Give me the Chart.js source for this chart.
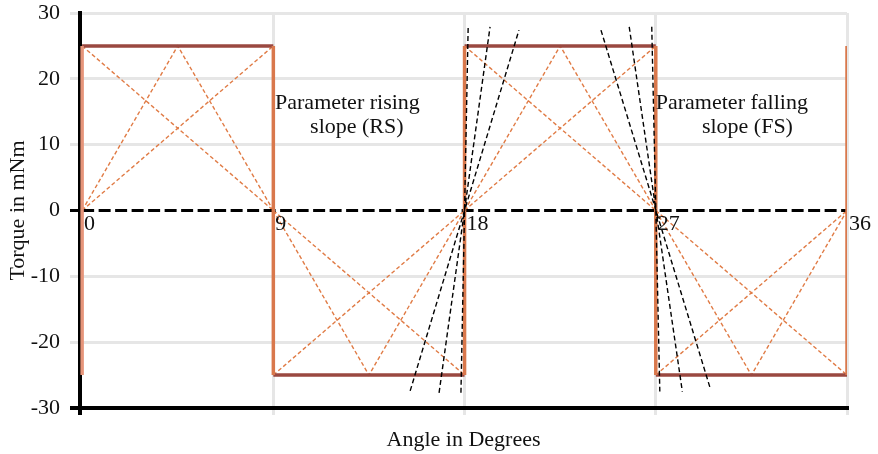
<!DOCTYPE html>
<html>
<head>
<meta charset="utf-8">
<script src="https://cdn.jsdelivr.net/npm/chart.js@4.4.1/dist/chart.umd.min.js"></script>
<style>
  html, body { margin: 0; padding: 0; background: #fff; }
  #wrap { width: 878px; height: 454px; position: relative; }
</style>
</head>
<body>
<div id="wrap"><canvas id="torqueChart"></canvas></div>
<script>
// angles (deg) where the torque steps, and their labels on the zero line
const edgeAngles = [0, 9, 18, 27, 36];
const edgeLabels = ["0", "9", "18", "27", "36"];

// flat parts of the square wave
const levelStart = [0, 9, 18, 27];
const levelEnd = [9, 18, 27, 36];
const levelTorque = [25, -25, 25, -25];

// tip of the dotted triangles in each flat part
const apexAngles = [4.5, 13.5, 22.5, 31.5];

// black slope lines through 18 (rising) and 27 (falling)
const rsTopAngle = [18.17, 19.2, 20.56];
const rsTopTorque = [27.9, 27.9, 27.4];
const rsBottomAngle = [17.83, 16.8, 15.44];
const rsBottomTorque = [-27.7, -27.7, -27.4];
const fsTopAngle = [26.81, 25.75, 24.42];
const fsTopTorque = [27.9, 27.9, 27.4];
const fsBottomAngle = [27.19, 28.25, 29.58];
const fsBottomTorque = [-27.5, -27.5, -27.2];

// annotation text
const noteLines = ["Parameter rising", "slope (RS)", "Parameter falling", "slope (FS)"];
const noteAngle = [9.08, 10.73, 27.0, 29.17];
const noteTorque = [15.4, 11.8, 15.4, 11.8];

const colors = {
  level: "#9a4840",
  edge: "#d9784c",
  edgeFirst: "#e6957a",
  guide: "#e07b45",
  black: "#000000",
  grid: "#e6e6e6",
  text: "#111111",
};
const serif = "Liberation Serif";

function gap() {
  return { x: null, y: null };
}

// build line point lists with gaps between pieces
const levelPoints = [];
levelStart.forEach((a, i) => {
  levelPoints.push({ x: a, y: levelTorque[i] }, { x: levelEnd[i], y: levelTorque[i] }, gap());
});

const edgePoints = [];
edgeAngles.slice(1).forEach((a) => {
  edgePoints.push({ x: a, y: -25 }, { x: a, y: 25 }, gap());
});
const firstEdge = [{ x: edgeAngles[0], y: -25 }, { x: edgeAngles[0], y: 25 }];

const guidePoints = [];
levelStart.forEach((s, i) => {
  const e = levelEnd[i];
  const l = levelTorque[i];
  guidePoints.push({ x: s, y: 0 }, { x: e, y: l }, gap());
  guidePoints.push({ x: s, y: l }, { x: e, y: 0 }, gap());
  guidePoints.push({ x: s, y: 0 }, { x: apexAngles[i], y: l }, { x: e, y: 0 }, gap());
});

const slopePoints = [];
rsTopAngle.forEach((a, i) => {
  slopePoints.push({ x: rsBottomAngle[i], y: rsBottomTorque[i] }, { x: a, y: rsTopTorque[i] }, gap());
});
fsTopAngle.forEach((a, i) => {
  slopePoints.push({ x: a, y: fsTopTorque[i] }, { x: fsBottomAngle[i], y: fsBottomTorque[i] }, gap());
});

const zeroPoints = [{ x: edgeAngles[0], y: 0 }, { x: edgeAngles[edgeAngles.length - 1], y: 0 }];

function lineSet(data, color, width, dash, order) {
  return {
    data,
    showLine: true,
    borderColor: color,
    borderWidth: width,
    borderDash: dash,
    pointRadius: 0,
    spanGaps: false,
    fill: false,
    order,
  };
}

const notesPlugin = {
  id: "notes",
  afterDatasetsDraw(chart) {
    const { ctx } = chart;
    const xs = chart.scales.x;
    const ys = chart.scales.y;
    ctx.save();
    ctx.fillStyle = colors.text;
    ctx.font = `22px "${serif}"`;
    ctx.textAlign = "left";
    ctx.textBaseline = "top";
    edgeAngles.forEach((a, i) => {
      ctx.fillText(edgeLabels[i], xs.getPixelForValue(a) + 2, ys.getPixelForValue(0) + 3);
    });
    ctx.textBaseline = "alphabetic";
    noteLines.forEach((t, i) => {
      ctx.fillText(t, xs.getPixelForValue(noteAngle[i]), ys.getPixelForValue(noteTorque[i]));
    });
    ctx.restore();
  },
};

new Chart(document.getElementById("torqueChart"), {
  type: "scatter",
  data: {
    datasets: [
      lineSet(slopePoints, colors.black, 1.4, [5, 3], 0),
      lineSet(edgePoints, colors.edge, 3.5, [], 1),
      lineSet(firstEdge, colors.edgeFirst, 3.5, [], 1),
      lineSet(levelPoints, colors.level, 3.5, [], 2),
      lineSet(zeroPoints, colors.black, 3, [12, 4.5], 3),
      lineSet(guidePoints, colors.guide, 1.4, [4, 2.5], 4),
    ],
  },
  options: {
    responsive: true,
    maintainAspectRatio: false,
    animation: false,
    layout: { padding: { top: 13, right: 31, left: 0, bottom: 0 } },
    plugins: {
      legend: { display: false },
      tooltip: { enabled: false },
    },
    scales: {
      x: {
        type: "linear",
        min: -0.1,
        max: 36,
        afterBuildTicks: (s) => {
          s.ticks = [s.min, 9, 18, 27, 36].map((v) => ({ value: v }));
        },
        afterFit: (s) => {
          s.height = 46;
          s.paddingLeft = 0;
          s.paddingRight = 0;
        },
        ticks: { display: false },
        grid: {
          color: (c) => (c.tick && c.tick.value < 0 ? colors.black : colors.grid),
          lineWidth: (c) => (c.tick && c.tick.value < 0 ? 4 : 3),
          tickLength: 7,
        },
        border: { color: colors.black, width: 4 },
        title: {
          display: true,
          text: "Angle in Degrees",
          color: colors.text,
          font: { family: serif, size: 22 },
          padding: { top: 0, bottom: 1 },
        },
      },
      y: {
        min: -30,
        max: 30,
        afterFit: (s) => {
          s.width = 80;
          s.paddingTop = 0;
          s.paddingBottom = 0;
        },
        ticks: {
          stepSize: 10,
          color: colors.text,
          font: { family: serif, size: 22 },
          padding: 10,
        },
        grid: {
          color: (c) => {
            const v = c.tick ? c.tick.value : null;
            if (v === 0) return "rgba(0,0,0,0)";
            return v === -30 ? colors.black : colors.grid;
          },
          tickColor: (c) => {
            const v = c.tick ? c.tick.value : null;
            return v === 0 || v === -30 ? colors.black : colors.grid;
          },
          lineWidth: (c) => (c.tick && c.tick.value === -30 ? 4 : 3),
          tickWidth: (c) => (c.tick && c.tick.value === -30 ? 4 : 3),
          tickLength: 10,
        },
        border: { color: colors.black, width: 4 },
        title: {
          display: true,
          text: "Torque in mNm",
          color: colors.text,
          font: { family: serif, size: 22 },
          padding: { top: 5, bottom: 0 },
        },
      },
    },
  },
  plugins: [notesPlugin],
});
</script>
</body>
</html>
